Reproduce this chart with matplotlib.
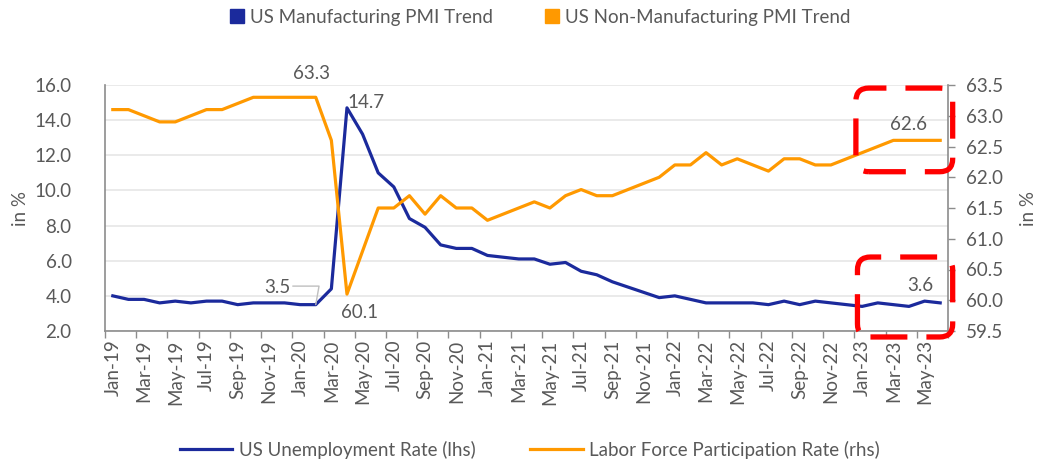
import matplotlib
matplotlib.use("Agg")
import matplotlib.pyplot as plt
from matplotlib.patches import FancyBboxPatch, Patch
from matplotlib.lines import Line2D
from matplotlib.transforms import IdentityTransform

# monthly data Jan-19 .. Jun-23
months = ["Jan", "Feb", "Mar", "Apr", "May", "Jun",
          "Jul", "Aug", "Sep", "Oct", "Nov", "Dec"]
dates = [f"{m}-{y}" for y in ["19", "20", "21", "22", "23"] for m in months][:54]

unemployment = [4.0, 3.8, 3.8, 3.6, 3.7, 3.6, 3.7, 3.7, 3.5, 3.6, 3.6, 3.6,
                3.5, 3.5, 4.4, 14.7, 13.2, 11.0, 10.2, 8.4, 7.9, 6.9, 6.7, 6.7,
                6.3, 6.2, 6.1, 6.1, 5.8, 5.9, 5.4, 5.2, 4.8, 4.5, 4.2, 3.9,
                4.0, 3.8, 3.6, 3.6, 3.6, 3.6, 3.5, 3.7, 3.5, 3.7, 3.6, 3.5,
                3.4, 3.6, 3.5, 3.4, 3.7, 3.6]

participation = [63.1, 63.1, 63.0, 62.9, 62.9, 63.0, 63.1, 63.1, 63.2, 63.3, 63.3, 63.3,
                 63.3, 63.3, 62.6, 60.1, 60.8, 61.5, 61.5, 61.7, 61.4, 61.7, 61.5, 61.5,
                 61.3, 61.4, 61.5, 61.6, 61.5, 61.7, 61.8, 61.7, 61.7, 61.8, 61.9, 62.0,
                 62.2, 62.2, 62.4, 62.2, 62.3, 62.2, 62.1, 62.3, 62.3, 62.2, 62.2, 62.3,
                 62.4, 62.5, 62.6, 62.6, 62.6, 62.6]

left_ticks = [2.0, 4.0, 6.0, 8.0, 10.0, 12.0, 14.0, 16.0]
right_ticks = [59.5, 60.0, 60.5, 61.0, 61.5, 62.0, 62.5, 63.0, 63.5]

BLUE = "#1B2A9C"
ORANGE = "#FF9900"
GREY = "#595959"
FS = 13.5

plt.rcParams["font.family"] = ["Lato", "DejaVu Sans"]

fig = plt.figure(figsize=(10.43, 4.62), dpi=100)
ax = fig.add_axes([105 / 1043, 1 - 331 / 462, 843 / 1043, 246 / 462])
ax2 = ax.twinx()

x = list(range(len(dates)))
ax.plot(x, unemployment, color=BLUE, lw=2.3, solid_joinstyle="round", zorder=3)
ax2.plot(x, participation, color=ORANGE, lw=2.3, solid_joinstyle="round", zorder=3)

ax.set_xlim(-0.5, len(dates) - 0.5)
ax.set_ylim(2, 16)
ax2.set_ylim(59.5, 63.5)

ax.set_yticks(left_ticks)
ax.set_yticklabels([f"{v:.1f}" for v in left_ticks])
ax2.set_yticks(right_ticks)
ax2.set_yticklabels([f"{v:.1f}" for v in right_ticks])

ax.set_xticks(x[::2])
ax.set_xticklabels(dates[::2], rotation=90)
ax.set_xticks([i - 0.5 for i in range(0, len(dates) + 1, 2)], minor=True)
ax.tick_params(axis="x", which="major", length=0, pad=6, labelsize=FS, labelcolor=GREY)
ax.tick_params(axis="x", which="minor", length=5, width=1, color="#8c8c8c")
ax.tick_params(axis="y", length=0, pad=24, labelsize=FS, labelcolor=GREY)
ax2.tick_params(axis="y", length=5, width=1, color="#8c8c8c", pad=8,
                labelsize=FS, labelcolor=GREY)

ax.grid(axis="y", color="#e6e6e6", lw=1.2)
ax.set_axisbelow(True)
for a in (ax, ax2):
    a.spines["top"].set_visible(False)
    for s in ("left", "right", "bottom"):
        a.spines[s].set_color("#8c8c8c")
        a.spines[s].set_linewidth(1.2)
ax.spines["right"].set_visible(False)
ax2.spines["left"].set_visible(False)
ax2.spines["bottom"].set_visible(False)

ax.set_ylabel("in %", color=GREY, fontsize=FS, labelpad=4)
ax2.set_ylabel("in %", color=GREY, fontsize=FS, rotation=90, labelpad=12)

# data labels
ax2.annotate("63.3", (13, participation[13]), xytext=(-3, 11), textcoords="offset points",
             ha="center", va="bottom", fontsize=FS, color=GREY)
ax.annotate("14.7", (15, unemployment[15]), xytext=(0, -2), textcoords="offset points",
            ha="left", va="bottom", fontsize=FS, color=GREY)
ax2.annotate("60.1", (15, participation[15]), xytext=(9, -7), textcoords="offset points",
             ha="center", va="top", fontsize=FS, color=GREY)
ax.annotate("3.5", (13, unemployment[13]), xytext=(-28, 6), textcoords="offset points",
            ha="center", va="bottom", fontsize=FS, color=GREY,
            arrowprops=dict(arrowstyle="-", color="#bfbfbf", lw=1,
                            connectionstyle="angle,angleA=0,angleB=80,rad=0",
                            shrinkA=0, shrinkB=0, relpos=(1.0, 0.6)))
ax2.annotate("62.6", (51, participation[51]), xytext=(0, 5), textcoords="offset points",
             ha="center", va="bottom", fontsize=FS, color=GREY)
ax.annotate("3.6", (52, unemployment[52]), xytext=(-3, 5), textcoords="offset points",
            ha="center", va="bottom", fontsize=FS, color=GREY)

# red dashed highlight boxes (data coordinates -> pixels so corners stay round)
def highlight(axis, x0, y0, x1, y1):
    (px0, py0) = axis.transData.transform((x0, y0))
    (px1, py1) = axis.transData.transform((x1, y1))
    box = FancyBboxPatch((px0, py0), px1 - px0, py1 - py0,
                         boxstyle="round,pad=0,rounding_size=13",
                         transform=IdentityTransform(), fill=False,
                         edgecolor="#FF0000", lw=3.8, linestyle=(0, (7, 3.6)),
                         clip_on=False, zorder=5)
    fig.add_artist(box)

highlight(ax2, 47.6, 62.09, 53.8, 63.45)
highlight(ax, 47.7, 1.66, 53.8, 6.21)

# legends
top_handles = [Patch(color=BLUE), Patch(color=ORANGE)]
fig.legend(top_handles, ["US Manufacturing PMI Trend", "US Non-Manufacturing PMI Trend"],
           loc="center", bbox_to_anchor=(0.518, 0.963), ncol=2, frameon=False,
           handlelength=0.75, handleheight=0.75, handletextpad=0.3, columnspacing=2.8,
           fontsize=FS, labelcolor=GREY)
bottom_handles = [Line2D([], [], color=BLUE, lw=2.3), Line2D([], [], color=ORANGE, lw=2.3)]
fig.legend(bottom_handles, ["US Unemployment Rate (lhs)", "Labor Force Participation Rate (rhs)"],
           loc="center", bbox_to_anchor=(0.508, 0.026), ncol=2, frameon=False,
           handlelength=2.8, handletextpad=0.35, columnspacing=2.9,
           fontsize=FS, labelcolor=GREY)

fig.savefig("out.png", dpi=100)
